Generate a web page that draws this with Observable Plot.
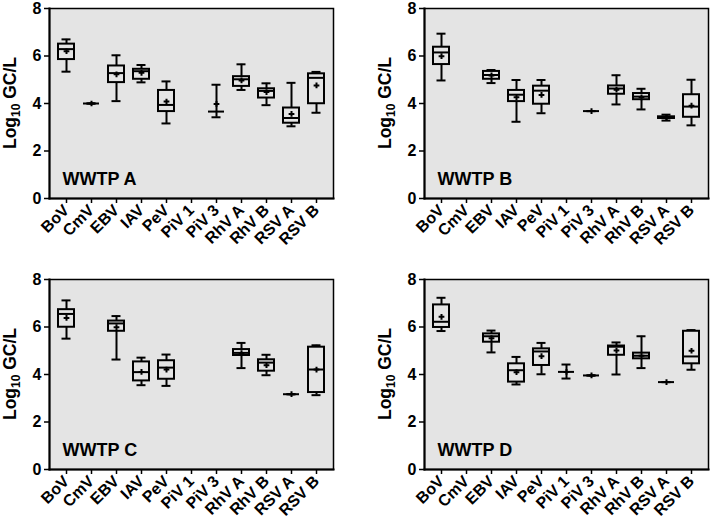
<!DOCTYPE html>
<html>
<head>
<meta charset="utf-8">
<script src="https://cdn.jsdelivr.net/npm/d3@7"></script>
<script src="https://cdn.jsdelivr.net/npm/@observablehq/plot@0.6"></script>
<style>
  body { margin: 0; background: #fff; }
  #wrap { position: relative; width: 711px; height: 525px; overflow: hidden; background: #fff; }
  #wrap > div { position: absolute; }
</style>
</head>
<body>
<div id="wrap"></div>
<script>
const cats = ["BoV","CmV","EBV","IAV","PeV","PiV 1","PiV 3","RhV A","RhV B","RSV A","RSV B"];
const panelNames = ["WWTP A","WWTP B","WWTP C","WWTP D"];
const yTicks = [0, 2, 4, 6, 8];

// WWTP A
const aMin  = [5.34, 4.00, 4.10, 4.89, 3.16, null, 3.42, 4.57, 3.93, 3.04, 3.61];
const aQ1   = [5.85, 4.00, 4.88, 5.02, 3.66, null, 3.66, 4.72, 4.23, 3.17, 3.99];
const aMed  = [6.29, 4.00, 5.28, 5.36, 3.94, null, 3.66, 5.02, 4.53, 3.39, 5.08];
const aQ3   = [6.50, 4.00, 5.58, 5.44, 4.55, null, 3.66, 5.13, 4.62, 3.81, 5.25];
const aMax  = [6.70, 4.00, 6.03, 5.62, 4.93, null, 4.79, 5.65, 4.85, 4.87, 5.33];
const aMean = [6.20, 4.00, 5.23, 5.29, 4.08, null, 3.98, 4.97, 4.48, 3.56, 4.76];

// WWTP B
const bMin  = [4.97, null, 4.86, 3.23, 3.59, null, 3.68, 3.96, 3.75, 3.28, 3.08];
const bQ1   = [5.64, null, 5.02, 4.08, 3.97, null, 3.68, 4.39, 4.16, 3.37, 3.42];
const bMed  = [6.15, null, 5.20, 4.37, 4.54, null, 3.68, 4.63, 4.29, 3.40, 3.87];
const bQ3   = [6.37, null, 5.35, 4.55, 4.73, null, 3.68, 4.74, 4.42, 3.44, 4.37];
const bMax  = [6.94, null, 5.41, 4.99, 4.99, null, 3.68, 5.19, 4.62, 3.53, 5.00];
const bMean = [5.99, null, 5.18, 4.26, 4.36, null, 3.68, 4.58, 4.26, 3.39, 3.91];

// WWTP C
const cMin  = [5.51, null, 4.63, 3.55, 3.52, null, null, 4.27, 3.97, 3.17, 3.13];
const cQ1   = [5.99, null, 5.82, 3.73, 3.80, null, null, 4.80, 4.14, 3.17, 3.24];
const cMed  = [6.55, null, 6.15, 4.10, 4.29, null, null, 4.91, 4.50, 3.17, 4.21];
const cQ3   = [6.73, null, 6.25, 4.53, 4.58, null, null, 5.05, 4.62, 3.17, 5.15];
const cMax  = [7.12, null, 6.46, 4.71, 4.84, null, null, 5.33, 4.83, 3.17, 5.23];
const cMean = [6.38, null, 5.99, 4.11, 4.21, null, null, 4.90, 4.39, 3.17, 4.21];

// WWTP D
const dMin  = [5.83, null, 4.93, 3.58, 4.01, 3.83, 3.96, 4.00, 4.27, 3.68, 4.20];
const dQ1   = [5.98, null, 5.36, 3.68, 4.38, 4.11, 3.96, 4.81, 4.66, 3.68, 4.45];
const dMed  = [6.22, null, 5.61, 4.18, 4.97, 4.11, 3.96, 5.17, 4.79, 3.68, 4.76];
const dQ3   = [6.93, null, 5.71, 4.45, 5.08, 4.11, 3.96, 5.20, 4.90, 3.68, 5.82];
const dMax  = [7.23, null, 5.85, 4.74, 5.33, 4.42, 3.96, 5.35, 5.61, 3.68, 5.87];
const dMean = [6.43, null, 5.53, 4.10, 4.77, 4.11, 3.96, 5.01, 4.79, 3.68, 5.00];

const panels = [
  {name: panelNames[0], left: -20, top: 0,   s: [aMin, aQ1, aMed, aQ3, aMax, aMean]},
  {name: panelNames[1], left: 355, top: 0,   s: [bMin, bQ1, bMed, bQ3, bMax, bMean]},
  {name: panelNames[2], left: -20, top: 271, s: [cMin, cQ1, cMed, cQ3, cMax, cMean]},
  {name: panelNames[3], left: 355, top: 271, s: [dMin, dQ1, dMed, dQ3, dMax, dMean]}
];

const BG = "#e4e4e4";
const font = "'Liberation Sans', Arial, Helvetica, sans-serif";
const wrap = document.getElementById("wrap");

for (const p of panels) {
  const [mn, q1, md, q3, mx, me] = p.s;
  const rows = cats.map((c, i) => ({cat: c, min: mn[i], q1: q1[i], med: md[i], q3: q3[i], max: mx[i], mean: me[i]}))
                   .filter(d => d.min != null);
  const mL = 69, mT = 8, mB = 64;
  const svg = Plot.plot({
    width: 358, height: 262,
    marginLeft: mL, marginRight: 5, marginTop: mT, marginBottom: mB,
    style: {fontFamily: font, fontWeight: "bold", background: "transparent", color: "black", overflow: "visible", maxWidth: "none"},
    x: {domain: cats, paddingInner: 0.36, paddingOuter: 0.335, label: null},
    y: {domain: [0, 8], label: null},
    marks: [
      Plot.frame({fill: BG}),
      Plot.axisY({ticks: yTicks, tickSize: 5, tickPadding: 3, fontSize: 16, strokeWidth: 1.5, label: null}),
      Plot.axisX({tickSize: 5, tickPadding: 4, tickRotate: -45, fontSize: 16, strokeWidth: 1.5, label: null}),
      Plot.ruleX(rows, {x: "cat", y1: "min", y2: "q1", strokeWidth: 2}),
      Plot.ruleX(rows, {x: "cat", y1: "q3", y2: "max", strokeWidth: 2}),
      Plot.tickY(rows, {x: "cat", y: "min", strokeWidth: 2, inset: 3.5}),
      Plot.tickY(rows, {x: "cat", y: "max", strokeWidth: 2, inset: 3.5}),
      Plot.barY(rows, {x: "cat", y1: "q1", y2: "q3", fill: BG, stroke: "black", strokeWidth: 2}),
      Plot.tickY(rows, {x: "cat", y: "med", strokeWidth: 2}),
      Plot.dot(rows, {x: "cat", y: "mean", symbol: "plus", r: 2, stroke: "black", strokeWidth: 2}),
      Plot.frame({stroke: "black", strokeWidth: 1.5}),
      Plot.frame({anchor: "left", stroke: "black", strokeWidth: 2}),
      Plot.frame({anchor: "bottom", stroke: "black", strokeWidth: 2}),
      Plot.text([p.name], {frameAnchor: "bottom-left", dx: 13, dy: -14, textAnchor: "start", lineAnchor: "bottom", fontSize: 18, fontWeight: "bold", fill: "black"})
    ]
  });
  const sel = d3.select(svg);

  // y-axis title with subscript
  const cy = mT + 95;
  const t = sel.append("text")
    .attr("transform", `translate(36,${cy}) rotate(-90)`)
    .attr("text-anchor", "middle")
    .attr("font-size", 17.5)
    .attr("font-weight", "bold")
    .attr("font-family", font)
    .attr("fill", "black");
  t.append("tspan").text("Log");
  t.append("tspan").attr("font-size", 12).attr("dy", 4).text("10");
  t.append("tspan").attr("dy", -4).text(" GC/L");

  const div = document.createElement("div");
  div.style.left = p.left + "px";
  div.style.top = p.top + "px";
  div.appendChild(svg);
  wrap.appendChild(div);
}
</script>
</body>
</html>
